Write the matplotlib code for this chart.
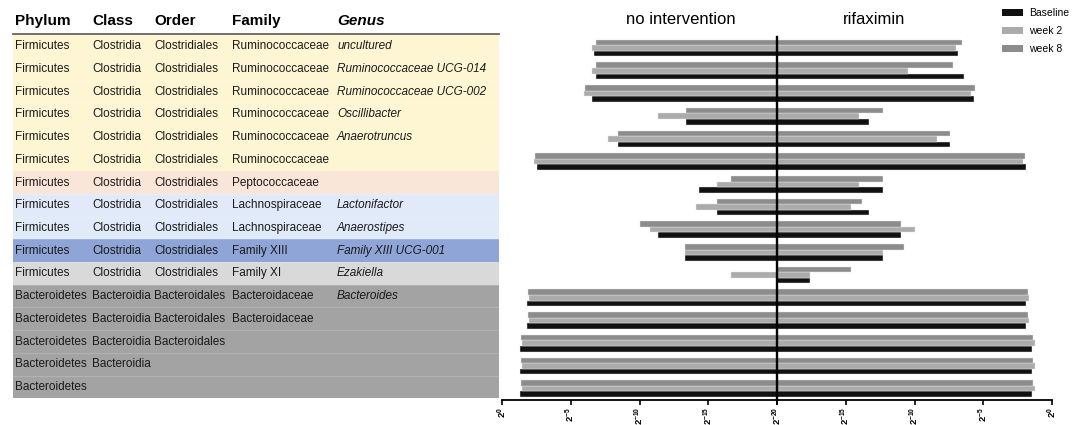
import numpy as np
import matplotlib
matplotlib.use("Agg")
import matplotlib.pyplot as plt
from matplotlib.patches import Patch, Rectangle
from matplotlib.ticker import FixedLocator, NullLocator

plt.rcParams["font.family"] = ["Liberation Sans", "DejaVu Sans"]
plt.rcParams["mathtext.fontset"] = "custom"
plt.rcParams["mathtext.rm"] = "Liberation Sans"
plt.rcParams["mathtext.bf"] = "Liberation Sans:bold"

# taxonomy table (one entry per row, top to bottom)
phylum = ["Firmicutes"] * 11 + ["Bacteroidetes"] * 5
klass = ["Clostridia"] * 11 + ["Bacteroidia"] * 4 + [""]
order = ["Clostridiales"] * 11 + ["Bacteroidales"] * 3 + ["", ""]
family = ["Ruminococcaceae"] * 6 + ["Peptococcaceae", "Lachnospiraceae", "Lachnospiraceae",
          "Family XIII", "Family XI", "Bacteroidaceae", "Bacteroidaceae", "", "", ""]
genus = ["uncultured", "Ruminococcaceae UCG-014", "Ruminococcaceae UCG-002", "Oscillibacter",
         "Anaerotruncus", "", "", "Lactonifactor", "Anaerostipes", "Family XIII UCG-001",
         "Ezakiella", "Bacteroides", "", "", "", ""]
row_colors = ["#fef6d3"] * 6 + ["#fae6d8", "#e1eaf8", "#e1eaf8", "#8fa5d7", "#d9d9d9"] + ["#a3a3a3"] * 5

# relative abundance, log2 (nan = not shown)
nan = np.nan
base_ni = [-6.7, -6.85, -6.56, -13.35, -8.43, -2.56, -14.35, -15.66, -11.34, -13.33, nan,
           -1.8, -1.8, -1.3, -1.3, -1.3]
wk2_ni = [-6.56, -6.56, -5.93, -11.34, -7.7, -2.34, -15.66, -14.08, -10.76, -13.33, -16.67,
          -1.97, -1.97, -1.42, -1.42, -1.42]
wk8_ni = [-6.85, -6.85, -6.05, -13.35, -8.43, -2.39, -16.67, -15.66, -10.03, -13.33, nan,
          -1.88, -1.88, -1.35, -1.35, -1.35]
base_rif = [-6.83, -6.39, -5.66, -13.3, -7.41, -1.92, -12.29, -13.3, -10.98, -12.29, -17.62,
            -1.9, -1.9, -1.47, -1.47, -1.47]
wk2_rif = [-6.97, -10.47, -5.88, -14.03, -8.4, -2.1, -14.03, -14.64, -10.0, -12.29, -17.62,
           -1.66, -1.66, -1.27, -1.27, -1.27]
wk8_rif = [-6.54, -7.19, -5.59, -12.29, -7.41, -1.97, -12.29, -13.81, -10.98, -10.73, -14.64,
           -1.78, -1.78, -1.35, -1.35, -1.35]

series_labels = ["Baseline", "week 2", "week 8"]
series_colors = ["#111111", "#ababab", "#8c8c8c"]
tick_exps = [0, -5, -10, -15, -20]
FLOOR = 2.0 ** -20

W, H = 1079, 425
fig = plt.figure(figsize=(W / 100, H / 100), dpi=100)


def px_axes(x0, y0, x1, y1):
    return fig.add_axes([x0 / W, 1 - y1 / H, (x1 - x0) / W, (y1 - y0) / H])


# ---- table ----
tab = px_axes(13, 35, 499, 398.3)
tab.set_xlim(13, 499)
tab.set_ylim(16, 0)
tab.axis("off")
n = len(phylum)
for i in range(n):
    tab.add_patch(Rectangle((13, i), 486, 1, facecolor=row_colors[i], edgecolor="none"))
    if i > 0:
        tab.plot([13, 499], [i, i], color="white", lw=0.4, alpha=0.3)
cols = [15, 92, 154, 232, 337]
for i in range(n):
    y = i + 0.5
    for x, txt in zip(cols[:4], [phylum[i], klass[i], order[i], family[i]]):
        tab.text(x, y, txt, fontsize=8.5, va="center", ha="left", color="#1a1a1a")
    tab.text(cols[4], y, genus[i], fontsize=8.5, va="center", ha="left", style="italic", color="#1a1a1a")
for x, txt in zip(cols, ["Phylum", "Class", "Order", "Family", "Genus"]):
    tab.text(x, -0.62, txt, fontsize=11, fontweight="bold", va="center", ha="left",
             style="italic" if txt == "Genus" else "normal", clip_on=False)
tab.plot([13, 499], [-0.03, -0.03], color="#555555", lw=1.2, clip_on=False)

# ---- bars ----
ax_l = px_axes(502, 36.7, 777, 400)
ax_r = px_axes(777, 36.7, 1052, 400)
rows = np.arange(n) + 0.5
offsets = [0.245, 0.0, -0.245]
bh = 0.245

for ax, data in [(ax_l, [base_ni, wk2_ni, wk8_ni]), (ax_r, [base_rif, wk2_rif, wk8_rif])]:
    ax.set_xscale("log", base=2)
    for vals, off, col in zip(data, offsets, series_colors):
        v = np.array(vals, dtype=float)
        m = ~np.isnan(v)
        ax.barh(rows[m] + off, 2.0 ** v[m] - FLOOR, left=FLOOR, height=bh,
                color=col, edgecolor="#e6e6e6", linewidth=0.3)
    ax.set_ylim(16, 0)
    ax.set_yticks([])
    ax.xaxis.set_major_locator(FixedLocator([2.0 ** e for e in tick_exps]))
    ax.xaxis.set_minor_locator(NullLocator())
    for s in ["top", "left", "right"]:
        ax.spines[s].set_visible(False)
    ax.spines["bottom"].set_linewidth(1.3)
    ax.tick_params(axis="x", length=3.5, width=1.2, pad=1.5, labelsize=6.8, labelrotation=90)

ax_l.set_xlim(2.0 ** 0, FLOOR)
ax_r.set_xlim(FLOOR, 2.0 ** 0)
ax_r.axvline(FLOOR, color="black", lw=1.7, zorder=5, clip_on=False)
ax_l.set_xticklabels([r"$\mathbf{2^{%d}}$" % e for e in tick_exps])
ax_r.set_xticklabels(["" if e == -20 else r"$\mathbf{2^{%d}}$" % e for e in tick_exps])

fig.text(681 / W, 1 - 19 / H, "no intervention", fontsize=12, ha="center", va="center")
fig.text(874 / W, 1 - 19 / H, "rifaximin", fontsize=12, ha="center", va="center")

handles = [Patch(facecolor=c, edgecolor="none") for c in series_colors]
fig.legend(handles, series_labels, loc="upper left", bbox_to_anchor=(995 / W, 1 - 1 / H),
           frameon=False, fontsize=7.5, handlelength=2.0, handleheight=0.7,
           labelspacing=0.75, handletextpad=0.6, borderpad=0.2)

fig.savefig("out.png", dpi=100)
